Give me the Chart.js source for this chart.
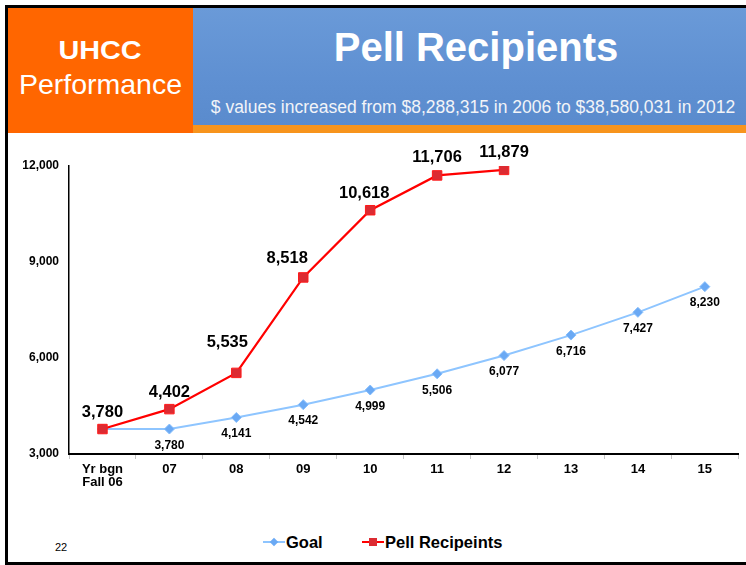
<!DOCTYPE html>
<html><head><meta charset="utf-8">
<script src="https://cdn.jsdelivr.net/npm/chart.js@4"></script>
<style>
html,body{margin:0;padding:0;background:#fff;}
body{width:746px;height:565px;position:relative;overflow:hidden;font-family:'Liberation Sans',Arial,Helvetica,sans-serif;}
#frame{position:absolute;left:5px;top:5px;width:760px;height:554px;border-left:3px solid #000;border-top:3px solid #000;border-bottom:3px solid #000;}
#orange{position:absolute;left:8px;top:8px;width:185px;height:125px;background:#ff6600;}
#blue{position:absolute;left:193px;top:8px;width:553px;height:117px;background:linear-gradient(180deg,#6a9ad8 0%,#5f90d2 60%,#5a8bcd 100%);}
#strip{position:absolute;left:193px;top:125px;width:553px;height:8px;background:#f7941d;}
.t{position:absolute;line-height:1;white-space:nowrap;color:#fff;}
#uhcc{left:8px;width:185px;top:38px;font-size:25px;font-weight:bold;text-align:center;}
#uhcc span{display:inline-block;transform:scaleX(1.15);}
#perf{left:8px;width:185px;top:70px;font-size:28.5px;text-align:center;}
#title{left:193px;width:566px;top:27px;font-size:40px;font-weight:bold;text-align:center;}
#sub{left:193px;width:560px;top:99px;font-size:17.5px;text-align:center;color:#f2f4f8;}
#chartwrap{position:absolute;left:0;top:134px;width:746px;height:366px;}
#page{position:absolute;left:55px;top:542px;font-size:11px;color:#000;line-height:1;}
.lg{position:absolute;top:534px;font-size:16.5px;font-weight:bold;color:#000;line-height:1;white-space:nowrap;}
.mk{position:absolute;top:541px;width:22px;height:2px;}
.dm{position:absolute;width:6px;height:6px;transform:rotate(45deg);}
.sq{position:absolute;width:8px;height:8px;}
</style>
</head><body>
<div id="frame"></div>
<div id="orange"></div>
<div id="blue"></div>
<div id="strip"></div>
<div class="t" id="uhcc"><span>UHCC</span></div>
<div class="t" id="perf">Performance</div>
<div class="t" id="title">Pell Recipients</div>
<div class="t" id="sub">$ values increased from $8,288,315 in 2006 to $38,580,031 in 2012</div>
<div id="chartwrap"><canvas id="c" width="746" height="366"></canvas></div>
<div id="page">22</div>
<div class="mk" id="mk0" style="left:263px;background:#8ec5ff;"><div class="dm" style="left:8px;top:-2px;background:#6aa9f4;"></div></div>
<div class="lg" id="lg0" style="left:286px;"></div>
<div class="mk" id="mk1" style="left:362px;background:#ff0000;"><div class="sq" style="left:7px;top:-3px;background:#dc2b32;"></div></div>
<div class="lg" id="lg1" style="left:385px;"></div>
<script>
const categories = [['Yr bgn','Fall 06'],'07','08','09','10','11','12','13','14','15'];
const seriesNames = ['Goal','Pell Recipeints'];
const goalValues = [3780,3780,4141,4542,4999,5506,6077,6716,7427,8230];
const pellValues = [3780,4402,5535,8518,10618,11706,11879,null,null,null];
const yTicks = [3000,6000,9000,12000];

document.getElementById('lg0').textContent = seriesNames[0];
document.getElementById('lg1').textContent = seriesNames[1];

const FONT = "'Liberation Sans', Arial, sans-serif";
const fmt = v => v.toLocaleString('en-US');

const labelPlugin = {
  id:'vlabels',
  afterDatasetsDraw(chart, args, opts){
    const ctx = chart.ctx;
    const nudge = opts.nudge || {};
    chart.data.datasets.forEach((ds,i)=>{
      const meta = chart.getDatasetMeta(i);
      const isPell = i === 1;
      meta.data.forEach((pt,j)=>{
        const v = ds.data[j];
        if (v == null) return;
        if (!isPell && j === 0) return;
        const n = (isPell && nudge[j]) ? nudge[j] : [0,0];
        ctx.save();
        ctx.font = isPell ? "bold 16.5px " + FONT : "bold 12px " + FONT;
        ctx.fillStyle = '#000';
        ctx.textAlign = 'center';
        ctx.textBaseline = 'middle';
        ctx.fillText(fmt(v), pt.x + n[0], pt.y + (isPell ? -17 : 16.5) + n[1]);
        ctx.restore();
      });
    });
  }
};

new Chart(document.getElementById('c'), {
  type:'line',
  data:{
    labels: categories,
    datasets:[
      {label:seriesNames[0], data:goalValues, borderColor:'#8ec5ff', borderWidth:2, pointStyle:'rectRot', pointRadius:5, pointBackgroundColor:'#6aa9f4', pointBorderColor:'#86bdfb', pointBorderWidth:1, tension:0, order:1},
      {label:seriesNames[1], data:pellValues, borderColor:'#ff0000', borderWidth:2.2, pointStyle:'rect', pointRadius:6.7, pointBackgroundColor:'#dc2b32', pointBorderColor:'#ff1a1a', pointBorderWidth:1, tension:0, order:0, spanGaps:false}
    ]
  },
  options:{
    responsive:false, animation:false,
    layout:{padding:{top:32,left:0,right:0,bottom:0}},
    plugins:{
      legend:{display:false}, tooltip:{enabled:false},
      vlabels:{nudge:{2:[-9,-13],3:[-16,-2],4:[-6,0],5:[0,-1]}}
    },
    scales:{
      x:{
        offset:true,
        grid:{offset:true, drawOnChartArea:false, drawTicks:true, tickLength:5, color:'#c4c4c4'},
        border:{color:'#000', width:2},
        ticks:{color:'#000', font:{family:FONT, size:13, weight:'bold', lineHeight:1}, padding:4, maxRotation:0, autoSkip:false},
        afterFit(s){ s.height = 46; }
      },
      y:{
        min:3000, max:12000,
        afterBuildTicks(s){ s.ticks = yTicks.map(v=>({value:v})); },
        grid:{drawOnChartArea:false, drawTicks:false},
        border:{color:'#000', width:1.5},
        ticks:{color:'#000', font:{family:FONT, size:12, weight:'bold'}, padding:10, callback:v=>fmt(v)},
        afterFit(s){ s.width = 69; }
      }
    }
  },
  plugins:[labelPlugin]
});
</script>
</body></html>
